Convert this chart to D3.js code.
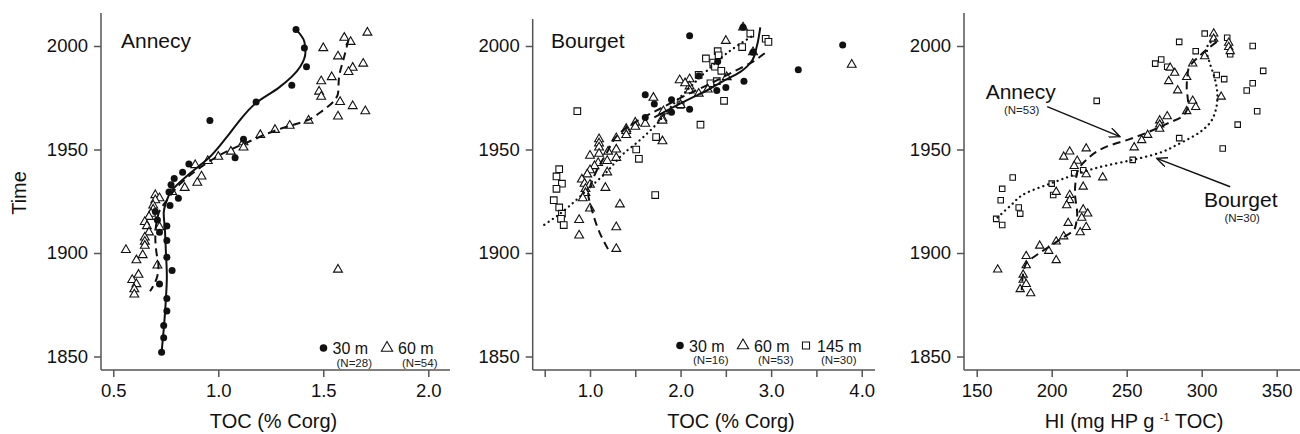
<!DOCTYPE html>
<html lang="en">
<head>
<meta charset="UTF-8">
<title>TOC and HI vs time</title>
<script src="https://cdn.jsdelivr.net/npm/d3@7"></script>
<style>
  body { margin: 0; background: #fff; }
  svg text { font-family: "Liberation Sans", Arial, sans-serif; fill: #111; }
  .axis line { stroke: #555; stroke-width: 1.5px; }
  .axis text { font-size: 18.5px; }
  .frame { stroke: #555; stroke-width: 1.5px; }
  .fit { fill: none; stroke: #111; }
  .solid { stroke-width: 2px; }
  .dashed { stroke-width: 2px; stroke-dasharray: 8 5; }
  .dotted { stroke-width: 2.3px; stroke-dasharray: 0.1 5; stroke-linecap: round; }
  .dot { fill: #111; }
  .open { fill: #fff; stroke: #111; stroke-width: 1.1px; }
</style>
</head>
<body>
<svg id="svg"></svg>
<script>
var WIDTH = 1300;
var HEIGHT = 434;

// tick values
var yearTicks = [1850, 1900, 1950, 2000];
var annecyTicks = [0.5, 1.0, 1.5, 2.0];
var bourgetTicks = [1.0, 2.0, 3.0, 4.0];
var bourgetMinor = [0.5, 1.5, 2.5, 3.5];
var hiTicks = [150, 200, 250, 300, 350];

// Annecy TOC, [TOC, year]
var annecy30 = [[1.37,2008],[1.41,1999],[1.42,1990],[1.35,1981],[1.18,1973],[0.96,1964],[1.12,1955],[1.08,1946],
  [0.86,1943],[0.83,1939],[0.79,1936],[0.775,1933],[0.765,1929.5],[0.81,1926.5],[0.77,1923],[0.70,1920],[0.71,1916],
  [0.755,1913],[0.72,1910],[0.755,1906],[0.755,1898],[0.78,1891.5],[0.72,1885],[0.755,1878],[0.755,1872],[0.74,1865],
  [0.74,1859],[0.73,1852]];
var annecy60 = [[1.71,2006.5],[1.60,2004],[1.63,2002],[1.50,1999],[1.57,1995],[1.64,1989.5],[1.69,1991.5],[1.62,1987.5],
  [1.54,1985],[1.49,1983],[1.48,1978],[1.49,1975.5],[1.58,1973],[1.64,1971],[1.70,1968.5],[1.57,1966],[1.43,1964],
  [1.34,1961.5],[1.27,1959.5],[1.20,1957],[1.12,1953.5],[1.12,1951],[1.06,1949],[1.00,1946.5],[0.95,1944.5],[0.89,1942.5],
  [0.92,1937],[0.90,1934],[0.84,1931.5],[0.78,1929.5],[0.70,1928],[0.72,1926.5],[0.70,1925.5],[0.69,1923],[0.69,1921],
  [0.68,1919],[0.67,1917.5],[0.65,1915],[0.66,1913],[0.72,1912.5],[0.67,1910],[0.65,1907.5],[0.65,1905.5],[0.65,1903.5],
  [0.56,1901.5],[0.64,1899],[0.61,1896.5],[0.71,1894],[0.62,1889.5],[0.59,1887],[0.61,1885],[0.60,1882.5],[0.60,1880],
  [1.57,1892]];
var annecy30Fit = [[1.37,2008],[1.41,2002],[1.415,1997],[1.39,1990],[1.29,1980],[1.18,1972.5],[1.09,1962.5],[1.04,1956],
  [0.945,1945],[0.865,1938.5],[0.77,1929],[0.755,1925.5],[0.74,1919],[0.745,1912.5],[0.75,1901.5],[0.755,1888.5],
  [0.75,1877],[0.74,1863],[0.73,1852]];
var annecy60Fit = [[1.62,2003],[1.60,1995],[1.575,1985],[1.57,1977],[1.555,1974],[1.50,1969],[1.42,1964],[1.28,1959.5],
  [1.15,1954],[1.02,1948],[0.91,1941],[0.82,1933.5],[0.755,1925.5],[0.715,1919],[0.70,1908],[0.705,1900.5],[0.715,1894],
  [0.71,1889],[0.675,1881.5]];

// Bourget TOC, [TOC, year]
var bourget30 = [[2.69,2009],[2.10,2005],[3.79,2000.5],[2.41,1992.5],[2.80,1997],[3.30,1988.5],[2.20,1985.5],[2.70,1983],
  [2.50,1980],[2.40,1978.5],[1.61,1976.5],[1.90,1974],[1.71,1972],[2.10,1969.5],[1.90,1968],[1.61,1965.5]];
var bourget60 = [[2.69,2009],[2.80,1997],[2.50,2002.5],[3.89,1991],[1.99,1983.5],[2.10,1984],[2.10,1980.5],[2.10,1978.5],
  [2.30,1979],[2.20,1977],[2.05,1982],[1.70,1975],[2.51,1985],[2.00,1971.5],[1.81,1968.5],[1.80,1965],[1.80,1964],
  [1.61,1962.5],[1.50,1963],[1.50,1961],[1.40,1960],[1.40,1959],[1.40,1957],[1.29,1955.5],[1.10,1955],[1.80,1954],
  [1.10,1953],[1.10,1951],[1.29,1950],[1.20,1949],[1.10,1948],[1.00,1947],[1.29,1946],[1.19,1944.5],[1.09,1943.5],
  [1.05,1942],[1.00,1940],[1.19,1939],[0.97,1938],[0.91,1935.5],[0.94,1933.5],[1.00,1933],[1.17,1931.5],[0.95,1931],
  [0.95,1929],[0.92,1926.5],[1.33,1923.5],[1.00,1921.5],[0.88,1916],[1.29,1912.5],[0.88,1908.5],[1.29,1902]];
var bourget145 = [[2.77,2006],[2.94,2003.5],[2.97,2002],[2.68,1999.5],[2.41,1997.5],[2.42,1995.5],[2.28,1994],[2.36,1992],
  [2.38,1990],[2.45,1988],[2.20,1986],[2.40,1983],[2.33,1982],[2.48,1973.5],[2.00,1971.5],[0.86,1968.5],[2.22,1962],
  [1.73,1956],[1.51,1950],[1.54,1945.5],[0.66,1940.5],[0.63,1937],[0.69,1933.5],[0.63,1931],[1.72,1928],[0.60,1925.5],
  [0.66,1922],[0.69,1919],[0.68,1916.5],[0.71,1913.5]];
var bourget30Fit = [[1.71,1965.5],[1.92,1970.5],[2.10,1974.5],[2.29,1978.5],[2.47,1983],[2.66,1987.5],[2.79,1993],
  [2.84,1999.5],[2.88,2009]];
var bourget60Fit = [[1.21,1901],[1.11,1909.5],[1.02,1921],[0.98,1929],[1.00,1932],[1.07,1939.5],[1.18,1948],[1.33,1958],
  [1.55,1964.5],[1.81,1970.5],[2.07,1976.5],[2.29,1981],[2.58,1987.5],[2.80,1992.5],[2.93,1996.5]];
var bourget145Fit = [[0.49,1913.5],[0.67,1919],[0.82,1924.5],[0.98,1931],[1.17,1938.5],[1.37,1948],[1.55,1954.5],
  [1.74,1962.5],[1.88,1970],[2.07,1978.5],[2.29,1988],[2.51,1996.5],[2.78,2004.5]];

// HI, [HI, year]
var hiAnnecy = [[308,2006],[308,2003.5],[318,2001.5],[318,1999.5],[319,1997.5],[302,1995],[294,1991.5],[279,1989.5],
  [282,1987],[290,1985],[278,1983],[284,1978.5],[294,1973.5],[296,1970.5],[313,1975.5],[290,1968.5],[277,1966],[272,1964],
  [272,1962],[272,1960],[264,1957],[260,1954.5],[255,1951],[223,1950.5],[212,1949],[208,1946.5],[217,1944.5],[215,1942],
  [223,1938],[234,1936.5],[221,1932],[203,1929.5],[212,1928],[212,1925.5],[210,1923],[221,1921],[224,1919],[220,1917],
  [211,1914.5],[223,1912.5],[219,1910],[208,1908],[203,1905.5],[192,1903.5],[198,1901],[183,1898.5],[203,1896.5],
  [183,1894],[164,1892],[181,1889.5],[181,1887],[183,1885],[179,1882.5],[186,1880.5]];
var hiBourget = [[302,2006],[317,2004],[285,2002],[334,2000],[296,1997.5],[319,1996],[341,1988],[269,1991.5],[273,1993.5],
  [277,1990],[310,1986],[315,1984],[334,1982],[330,1978.5],[337,1968.5],[324,1962],[285,1955.5],[314,1950.5],[254,1945],
  [230,1973.5],[221,1940],[215,1938.5],[200,1933.5],[201,1928],[174,1936.5],[167,1931],[166,1925.5],[178,1922],
  [179,1919],[163,1916.5],[167,1913.5]];
var hiAnnecyFit = [[180,1882],[181,1890],[183,1895],[192,1900],[205.5,1906.5],[215.5,1912],[217,1919],[215.5,1929],
  [216.5,1937.5],[223,1945],[237,1951.5],[252,1955],[263,1958],[277,1962.5],[288,1966.5],[291,1972],[290,1980],
  [291,1988.5],[299,1995.5],[310,2002]];
var hiBourgetFit = [[163,1916.5],[172,1922.5],[183,1929],[199,1933.5],[214,1937.5],[232,1941.5],[254,1945],[268,1947.5],
  [285.5,1953],[299,1958.5],[308,1966],[310.5,1975.5],[309,1983.5],[305.5,1991.5],[303.5,1997],[304,2000.5],[309,2003]];

var svg = d3.select("#svg").attr("width", WIDTH).attr("height", HEIGHT);

svg.append("defs").append("marker")
   .attr("id", "arrow")
   .attr("viewBox", "0 0 12 10")
   .attr("refX", 11).attr("refY", 5)
   .attr("markerWidth", 12).attr("markerHeight", 10)
   .attr("markerUnits", "userSpaceOnUse")
   .attr("orient", "auto")
   .append("path")
   .attr("d", "M0,0 L11,5 L0,10")
   .attr("fill", "none").attr("stroke", "#111").attr("stroke-width", 1.4);

var yScale = d3.scaleLinear().domain([1850, 2000]).range([356.5, 46]);
var BOTTOM = 370;

var panels = [
  {left: 101, right: 450, top: 13, domain: [0.5, 2.0], range: [113.3, 428.3], ticks: annecyTicks,
   fmt: d3.format(".1f"), title: "TOC (% Corg)", titleX: 273.5},
  {left: 532.7, right: 875, top: 19, domain: [1, 4], range: [590, 861.7], ticks: bourgetTicks, minor: bourgetMinor,
   fmt: d3.format(".1f"), title: "TOC (% Corg)", titleX: 731},
  {left: 964, right: 1300, top: 13, domain: [150, 350], range: [976.7, 1276.7], ticks: hiTicks,
   fmt: d3.format("d"), titleX: 1134}
];

panels.forEach(function(p){
  p.x = d3.scaleLinear().domain(p.domain).range(p.range);
  var g = svg.append("g");
  p.g = g;

  g.append("line").attr("class", "frame")
   .attr("x1", p.left).attr("x2", p.left).attr("y1", p.top).attr("y2", BOTTOM);
  g.append("line").attr("class", "frame")
   .attr("x1", p.left).attr("x2", p.right).attr("y1", BOTTOM).attr("y2", BOTTOM);

  var yAxis = d3.axisLeft(yScale).tickValues(yearTicks).tickFormat(d3.format("d"))
                .tickSize(7).tickPadding(6);
  g.append("g").attr("class", "axis")
   .attr("transform", "translate(" + p.left + ",0)")
   .call(yAxis)
   .call(function(s){ s.select(".domain").remove(); });

  var xAxis = d3.axisBottom(p.x).tickValues(p.ticks).tickFormat(p.fmt)
                .tickSize(7).tickPadding(7);
  g.append("g").attr("class", "axis")
   .attr("transform", "translate(0," + BOTTOM + ")")
   .call(xAxis)
   .call(function(s){ s.select(".domain").remove(); });

  if (p.minor) {
    g.append("g").attr("class", "axis")
     .attr("transform", "translate(0," + BOTTOM + ")")
     .call(d3.axisBottom(p.x).tickValues(p.minor).tickFormat("").tickSize(7))
     .call(function(s){ s.select(".domain").remove(); });
  }

  if (p.title) {
    g.append("text").attr("x", p.titleX).attr("y", 428)
     .attr("text-anchor", "middle").style("font-size", "20px").text(p.title);
  }
});

// HI axis title with superscript
var hiTitle = svg.append("text").attr("x", panels[2].titleX).attr("y", 428)
   .attr("text-anchor", "middle").style("font-size", "20px");
hiTitle.append("tspan").text("HI (mg HP g ");
hiTitle.append("tspan").attr("dy", -7).style("font-size", "11px").text("-1");
hiTitle.append("tspan").attr("dy", 7).text(" TOC)");

svg.append("text")
   .attr("transform", "translate(26,193) rotate(-90)")
   .attr("text-anchor", "middle").style("font-size", "20px").text("Time");

// draw helpers
function drawFit(p, data, cls){
  var sorted = data.slice().sort(function(a, b){ return b[1] - a[1]; });
  var line = d3.line()
               .x(function(d){ return p.x(d[0]); })
               .y(function(d){ return yScale(d[1]); })
               .curve(d3.curveMonotoneY);
  p.g.append("path").datum(sorted).attr("class", "fit " + cls).attr("d", line);
}
function drawDots(p, data, r){
  p.g.append("g").selectAll("circle").data(data).enter().append("circle")
     .attr("class", "dot")
     .attr("cx", function(d){ return p.x(d[0]); })
     .attr("cy", function(d){ return yScale(d[1]); })
     .attr("r", r);
}
function drawSymbols(p, data, type, size){
  var sym = d3.symbol().type(type).size(size);
  p.g.append("g").selectAll("path").data(data).enter().append("path")
     .attr("class", "open")
     .attr("d", sym)
     .attr("transform", function(d){ return "translate(" + p.x(d[0]) + "," + yScale(d[1]) + ")"; });
}
function legendItem(g, x, y, kind, label, n){
  var off = 9;
  if (kind === "dot") {
    g.append("circle").attr("class", "dot").attr("cx", x).attr("cy", y).attr("r", 3.8);
  } else {
    off = 11;
    g.append("path").attr("class", "open")
     .attr("d", d3.symbol().type(kind === "tri" ? d3.symbolTriangle : d3.symbolSquare).size(kind === "tri" ? 55 : 50))
     .attr("transform", "translate(" + x + "," + y + ")");
  }
  g.append("text").attr("x", x + off).attr("y", y + 6).style("font-size", "16px").text(label);
  g.append("text").attr("x", x + off + 4).attr("y", y + 18.5).style("font-size", "11.5px").style("fill", "#222").text(n);
}

// panel 1 - Annecy
var p1 = panels[0];
drawSymbols(p1, annecy60, d3.symbolTriangle, 34);
drawDots(p1, annecy30, 3.5);
drawFit(p1, annecy60Fit, "dashed");
drawFit(p1, annecy30Fit, "solid");
p1.g.append("text").attr("x", 121).attr("y", 48).style("font-size", "21px").text("Annecy");
legendItem(p1.g, 323.5, 348, "dot", "30 m", "(N=28)");
legendItem(p1.g, 387, 348, "tri", "60 m", "(N=54)");

// panel 2 - Bourget
var p2 = panels[1];
drawSymbols(p2, bourget145, d3.symbolSquare, 44);
drawSymbols(p2, bourget60, d3.symbolTriangle, 34);
drawDots(p2, bourget30, 3.5);
drawFit(p2, bourget145Fit, "dotted");
drawFit(p2, bourget60Fit, "dashed");
drawFit(p2, bourget30Fit, "solid");
p2.g.append("text").attr("x", 551).attr("y", 48).style("font-size", "21px").text("Bourget");
legendItem(p2.g, 680, 345.5, "dot", "30 m", "(N=16)");
legendItem(p2.g, 743, 345.5, "tri", "60 m", "(N=53)");
legendItem(p2.g, 806, 345.5, "sq", "145 m", "(N=30)");

// panel 3 - HI
var p3 = panels[2];
drawSymbols(p3, hiBourget, d3.symbolSquare, 30);
drawSymbols(p3, hiAnnecy, d3.symbolTriangle, 30);
drawFit(p3, hiBourgetFit, "dotted");
drawFit(p3, hiAnnecyFit, "dashed");

p3.g.append("text").attr("x", p3.x(156)).attr("y", yScale(1974.4)).style("font-size", "21px").text("Annecy");
p3.g.append("text").attr("x", p3.x(180)).attr("y", yScale(1967.3)).attr("text-anchor", "middle")
   .style("font-size", "11.5px").style("fill", "#222").text("(N=53)");
p3.g.append("line").attr("x1", p3.x(197)).attr("y1", yScale(1970.7))
   .attr("x2", p3.x(245.5)).attr("y2", yScale(1956.2))
   .attr("stroke", "#111").attr("stroke-width", 1.4).attr("marker-end", "url(#arrow)");

p3.g.append("text").attr("x", p3.x(301.5)).attr("y", yScale(1922.2)).style("font-size", "21px").text("Bourget");
p3.g.append("text").attr("x", p3.x(327)).attr("y", yScale(1915)).attr("text-anchor", "middle")
   .style("font-size", "11.5px").style("fill", "#222").text("(N=30)");
p3.g.append("line").attr("x1", p3.x(319)).attr("y1", yScale(1932))
   .attr("x2", p3.x(270)).attr("y2", yScale(1945.7))
   .attr("stroke", "#111").attr("stroke-width", 1.4).attr("marker-end", "url(#arrow)");
</script>
</body>
</html>
